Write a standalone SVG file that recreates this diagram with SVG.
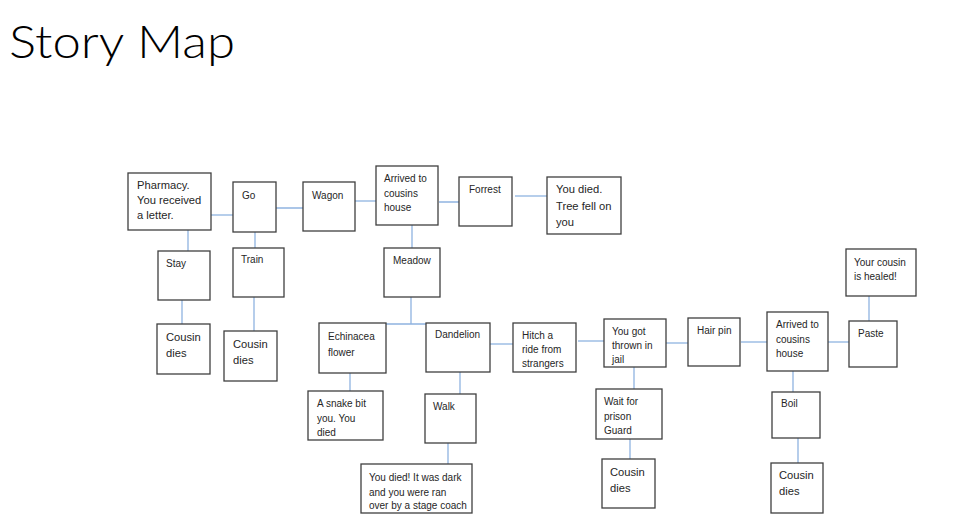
<svg xmlns="http://www.w3.org/2000/svg" width="971" height="532" viewBox="0 0 971 532">
<style>
.bg{fill:#ffffff}
.box{fill:#ffffff;stroke:#3f3f3f;stroke-width:1.3}
.t{font-family:"Liberation Sans",Arial,sans-serif;font-size:10px;fill:#262626}
.l{font-size:11.2px}
.title{font-family:Lato,"Liberation Sans",sans-serif;font-weight:300;font-size:45px;fill:#000000}
.c{fill:none;stroke:#8fb3e0;stroke-width:1.3}
</style>
<rect class="bg" x="0" y="0" width="971" height="532"/>
<text class="title" x="9" y="58" textLength="226" lengthAdjust="spacingAndGlyphs">Story Map</text>

<g id="connectors">
<path class="c" d="M211,215 H233"/>
<path class="c" d="M188,230 V251"/>
<path class="c" d="M274,208 H307"/>
<path class="c" d="M255,232 V257"/>
<path class="c" d="M347,201 H379"/>
<path class="c" d="M439,202 H472"/>
<path class="c" d="M515,196 H547"/>
<path class="c" d="M412,225 V248"/>
<path class="c" d="M182,288 V324"/>
<path class="c" d="M254,292 V331"/>
<path class="c" d="M411,297 V324 M386,324 H427"/>
<path class="c" d="M350,370 V391"/>
<path class="c" d="M460,369 V394"/>
<path class="c" d="M448,437 V464"/>
<path class="c" d="M490,344 H517"/>
<path class="c" d="M578,341 H604"/>
<path class="c" d="M634,367 V389"/>
<path class="c" d="M630,439 V459"/>
<path class="c" d="M659,343 H688"/>
<path class="c" d="M741,342 H767"/>
<path class="c" d="M827,342 H853"/>
<path class="c" d="M869,296 V321"/>
<path class="c" d="M793,371 V392"/>
<path class="c" d="M798,438 V463"/>
</g>

<g id="pharmacy"><rect class="box" x="128" y="173" width="83" height="57"/>
<text class="t l" x="137" y="189">Pharmacy.</text><text class="t l" x="137" y="204">You received</text><text class="t l" x="137" y="219">a letter.</text></g>
<g id="go"><rect class="box" x="233" y="182" width="43" height="50"/><text class="t" x="242" y="199">Go</text></g>
<g id="wagon"><rect class="box" x="303" y="182" width="52" height="49"/><text class="t" x="312" y="199">Wagon</text></g>
<g id="arrived1"><rect class="box" x="376" y="166" width="62" height="59"/>
<text class="t" x="384" y="182" font-size="9.5">Arrived  to</text><text class="t" x="384" y="197" font-size="9.5">cousins</text><text class="t" x="384" y="211" font-size="9.5">house</text></g>
<g id="forrest"><rect class="box" x="459" y="177" width="53" height="49"/><text class="t" x="469" y="193">Forrest</text></g>
<g id="died-tree"><rect class="box" x="547" y="177" width="74" height="57"/>
<text class="t l" x="556" y="193">You died.</text><text class="t l" x="556" y="210">Tree fell on</text><text class="t l" x="556" y="226">you</text></g>
<g id="stay"><rect class="box" x="158" y="251" width="52" height="49"/><text class="t" x="166" y="267">Stay</text></g>
<g id="train"><rect class="box" x="233" y="248" width="51" height="49"/><text class="t" x="241" y="263">Train</text></g>
<g id="meadow"><rect class="box" x="384" y="248" width="56" height="49"/><text class="t" x="393" y="264" font-size="9.5">Meadow</text></g>
<g id="cousin1"><rect class="box" x="157" y="324" width="53" height="50"/>
<text class="t l" x="166" y="341">Cousin</text><text class="t l" x="166" y="357">dies</text></g>
<g id="cousin2"><rect class="box" x="224" y="331" width="53" height="50"/>
<text class="t l" x="233" y="348">Cousin</text><text class="t l" x="233" y="364">dies</text></g>
<g id="echinacea"><rect class="box" x="319" y="323" width="67" height="50"/>
<text class="t" x="328" y="340" font-size="10.3">Echinacea</text><text class="t" x="328" y="356" font-size="10.8">flower</text></g>
<g id="dandelion"><rect class="box" x="426" y="323" width="64" height="49"/><text class="t" x="435" y="338" font-size="9.8">Dandelion</text></g>
<g id="snake"><rect class="box" x="308" y="391" width="75" height="49"/>
<text class="t" x="317" y="407" font-size="9.5">A snake bit</text><text class="t" x="317" y="422" font-size="9.5">you. You</text><text class="t" x="317" y="436" font-size="9.5">died</text></g>
<g id="walk"><rect class="box" x="425" y="394" width="51" height="49"/><text class="t" x="433" y="410" font-size="9.5">Walk</text></g>
<g id="died-coach"><rect class="box" x="361" y="464" width="111" height="49"/>
<text class="t" x="369" y="481" font-size="9.8">You died! It was dark</text><text class="t" x="369" y="496" font-size="9.8">and you were ran</text><text class="t" x="369" y="509" font-size="9.8">over by a stage coach</text></g>
<g id="hitch"><rect class="box" x="513" y="323" width="63" height="49"/>
<text class="t" x="522" y="339" font-size="9.5">Hitch a</text><text class="t" x="522" y="353" font-size="9.5">ride from</text><text class="t" x="522" y="367" font-size="9.5">strangers</text></g>
<g id="jail"><rect class="box" x="604" y="319" width="62" height="48"/>
<text class="t" x="612" y="335" font-size="9.5">You got</text><text class="t" x="612" y="349" font-size="9.5">thrown  in</text><text class="t" x="612" y="363" font-size="9.5">jail</text></g>
<g id="hairpin"><rect class="box" x="688" y="318" width="52" height="48"/><text class="t" x="697" y="334" font-size="9.5">Hair pin</text></g>
<g id="wait"><rect class="box" x="596" y="389" width="66" height="50"/>
<text class="t" x="604" y="405" font-size="9.5">Wait for</text><text class="t" x="604" y="420" font-size="9.5">prison</text><text class="t" x="604" y="434" font-size="9.5">Guard</text></g>
<g id="cousin3"><rect class="box" x="602" y="459" width="53" height="49"/>
<text class="t l" x="610" y="476">Cousin</text><text class="t l" x="610" y="492">dies</text></g>
<g id="arrived2"><rect class="box" x="767" y="312" width="61" height="59"/>
<text class="t" x="776" y="328" font-size="9.5">Arrived to</text><text class="t" x="776" y="343" font-size="9.5">cousins</text><text class="t" x="776" y="357" font-size="9.5">house</text></g>
<g id="paste"><rect class="box" x="849" y="321" width="48" height="46"/><text class="t" x="858" y="337" font-size="9.5">Paste</text></g>
<g id="healed"><rect class="box" x="846" y="249" width="70" height="47"/>
<text class="t" x="854" y="266" font-size="9.3">Your  cousin</text><text class="t" x="854" y="280" font-size="9.3">is healed!</text></g>
<g id="boil"><rect class="box" x="772" y="392" width="48" height="46"/><text class="t" x="781" y="407" font-size="9.5">Boil</text></g>
<g id="cousin4"><rect class="box" x="771" y="463" width="52" height="50"/>
<text class="t l" x="779" y="479">Cousin</text><text class="t l" x="779" y="495">dies</text></g>
</svg>
